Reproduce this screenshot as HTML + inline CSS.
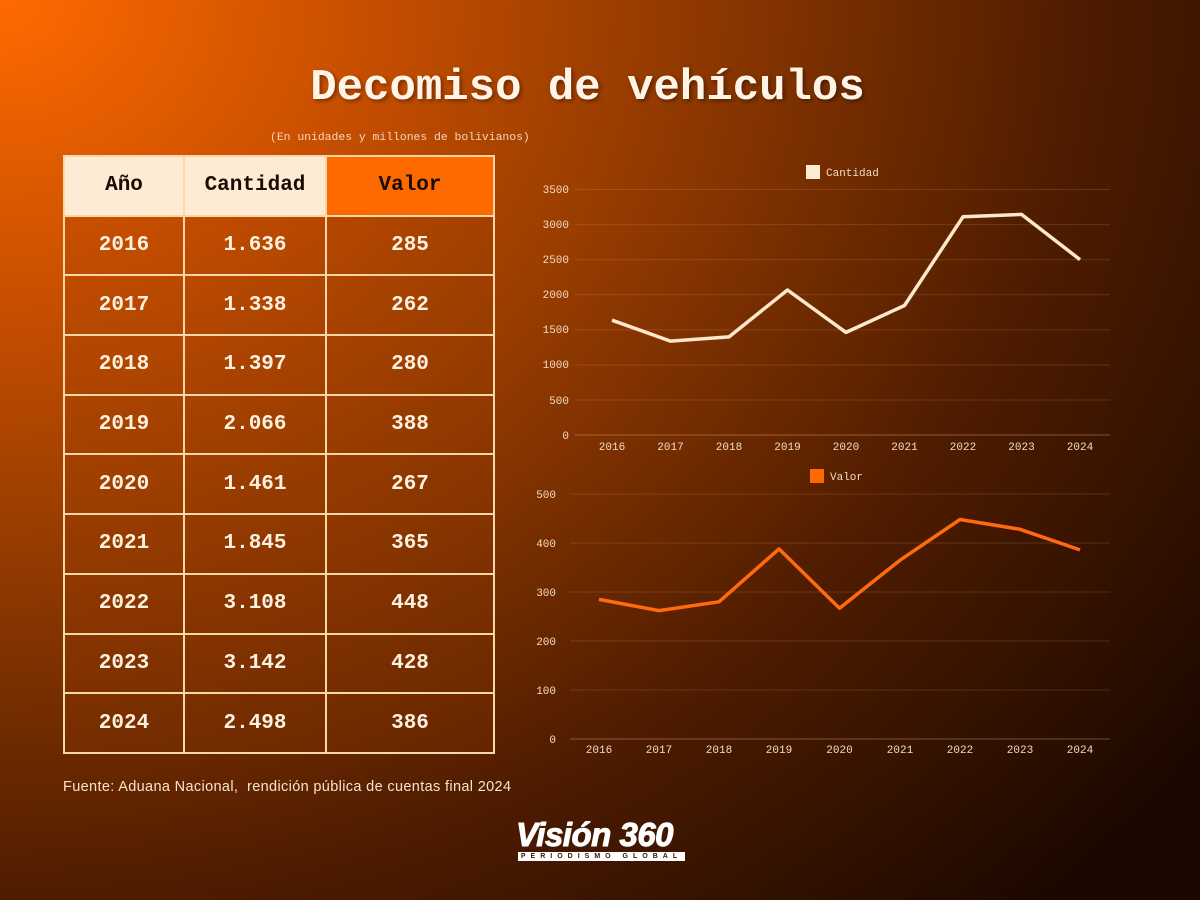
<!DOCTYPE html>
<html><head><meta charset="utf-8"><style>
html,body{margin:0;padding:0}
body{width:1200px;height:900px;position:relative;overflow:hidden;
background:radial-gradient(ellipse 1500px 1250px at 0px 0px,#ff6a00 0%,#c84f00 24%,#923a00 45%,#4e1c00 72%,#1c0800 100%);
font-family:"Liberation Mono",monospace;}
h1{position:absolute;top:63px;left:0;width:1175px;text-align:center;margin:0;font-size:44px;font-weight:bold;color:#fff4e6;text-shadow:2px 2px 4px rgba(0,0,0,.4)}
.sub{position:absolute;top:132px;left:270px;font-size:11.4px;color:#f3d9bd}
table{position:absolute;left:63px;top:155px;border-collapse:collapse;}
td{border:2px solid #f8d6a8;text-align:center;font-weight:bold;font-size:21px;color:#fff1e0;height:57.7px;padding:0;background:rgba(150,60,0,.22)}
tr.h td{background:#fdebd3;color:#1a0c05;}
tr.h td.v{background:#ff6a00}
.src{position:absolute;left:63px;top:779px;font-family:"Liberation Sans",sans-serif;font-size:14.5px;letter-spacing:0.35px;color:#f8e4cc}
.logo{position:absolute;left:516px;top:818px;font-family:"Liberation Sans",sans-serif;font-weight:900;font-style:italic;font-size:33px;color:#fff;letter-spacing:-0.5px;line-height:1;-webkit-text-stroke:1px #fff}
.logo2{position:absolute;left:518px;top:852px;width:167px;height:9px;background:#fff;color:#3a1500;font-family:"Liberation Sans",sans-serif;font-size:7px;line-height:9px;text-align:center;letter-spacing:5px;font-weight:bold}
svg{position:absolute;left:0;top:0}
svg text{font-family:"Liberation Mono",monospace;font-size:11px;fill:#f3dcc4}
</style></head><body>
<h1>Decomiso de vehículos</h1>
<div class="sub">(En unidades y millones de bolivianos)</div>
<table>
<colgroup><col style="width:120px"><col style="width:142px"><col style="width:168px"></colgroup>
<tr class="h"><td>Año</td><td>Cantidad</td><td class="v">Valor</td></tr>
<tr><td>2016</td><td>1.636</td><td>285</td></tr>
<tr><td>2017</td><td>1.338</td><td>262</td></tr>
<tr><td>2018</td><td>1.397</td><td>280</td></tr>
<tr><td>2019</td><td>2.066</td><td>388</td></tr>
<tr><td>2020</td><td>1.461</td><td>267</td></tr>
<tr><td>2021</td><td>1.845</td><td>365</td></tr>
<tr><td>2022</td><td>3.108</td><td>448</td></tr>
<tr><td>2023</td><td>3.142</td><td>428</td></tr>
<tr><td>2024</td><td>2.498</td><td>386</td></tr>
</table>
<svg width="1200" height="900">
<g stroke="rgba(255,200,150,0.15)" stroke-width="1">
<line x1="575" x2="1110" y1="189.5" y2="189.5"/><line x1="575" x2="1110" y1="224.6" y2="224.6"/><line x1="575" x2="1110" y1="259.7" y2="259.7"/><line x1="575" x2="1110" y1="294.8" y2="294.8"/><line x1="575" x2="1110" y1="329.9" y2="329.9"/><line x1="575" x2="1110" y1="365" y2="365"/><line x1="575" x2="1110" y1="400" y2="400"/>
<line x1="570" x2="1110" y1="494" y2="494"/><line x1="570" x2="1110" y1="543" y2="543"/><line x1="570" x2="1110" y1="592" y2="592"/><line x1="570" x2="1110" y1="641" y2="641"/><line x1="570" x2="1110" y1="690" y2="690"/>
</g>
<line x1="575" x2="1110" y1="435" y2="435" stroke="rgba(255,200,150,0.35)"/>
<line x1="570" x2="1110" y1="739" y2="739" stroke="rgba(255,200,150,0.35)"/>
<g text-anchor="end">
<text x="569" y="193">3500</text><text x="569" y="228">3000</text><text x="569" y="263">2500</text><text x="569" y="298">2000</text><text x="569" y="333">1500</text><text x="569" y="368">1000</text><text x="569" y="404">500</text><text x="569" y="439">0</text>
<text x="556" y="498">500</text><text x="556" y="547">400</text><text x="556" y="596">300</text><text x="556" y="645">200</text><text x="556" y="694">100</text><text x="556" y="743">0</text>
</g>
<g text-anchor="middle">
<text x="612" y="450">2016</text><text x="670.5" y="450">2017</text><text x="729" y="450">2018</text><text x="787.5" y="450">2019</text><text x="846" y="450">2020</text><text x="904.5" y="450">2021</text><text x="963" y="450">2022</text><text x="1021.5" y="450">2023</text><text x="1080" y="450">2024</text>
<text x="599" y="753">2016</text><text x="659" y="753">2017</text><text x="719" y="753">2018</text><text x="779" y="753">2019</text><text x="839.5" y="753">2020</text><text x="900" y="753">2021</text><text x="960" y="753">2022</text><text x="1020" y="753">2023</text><text x="1080" y="753">2024</text>
</g>
<rect x="806" y="165" width="14" height="14" fill="#fdebd3"/><text x="826" y="176">Cantidad</text>
<rect x="810" y="469" width="14" height="14" fill="#ff6a00"/><text x="830" y="480">Valor</text>
<polyline fill="none" stroke="#fde8cc" stroke-width="3.5" stroke-linejoin="round" points="612,320.2 670.5,341.1 729,336.9 787.5,290 846,332.4 904.5,305.5 963,216.8 1021.5,214.4 1080,259.6"/>
<polyline fill="none" stroke="#ff6a10" stroke-width="3.5" stroke-linejoin="round" points="599,599.4 659,610.6 719,601.8 779,548.9 839.5,608.2 900,560.2 960,519.5 1020,529.3 1080,549.9"/>
</svg>
<div class="src">Fuente: Aduana Nacional,&nbsp; rendición pública de cuentas final 2024</div>
<div class="logo">Visión 360</div>
<div class="logo2">PERIODISMO GLOBAL</div>
</body></html>
